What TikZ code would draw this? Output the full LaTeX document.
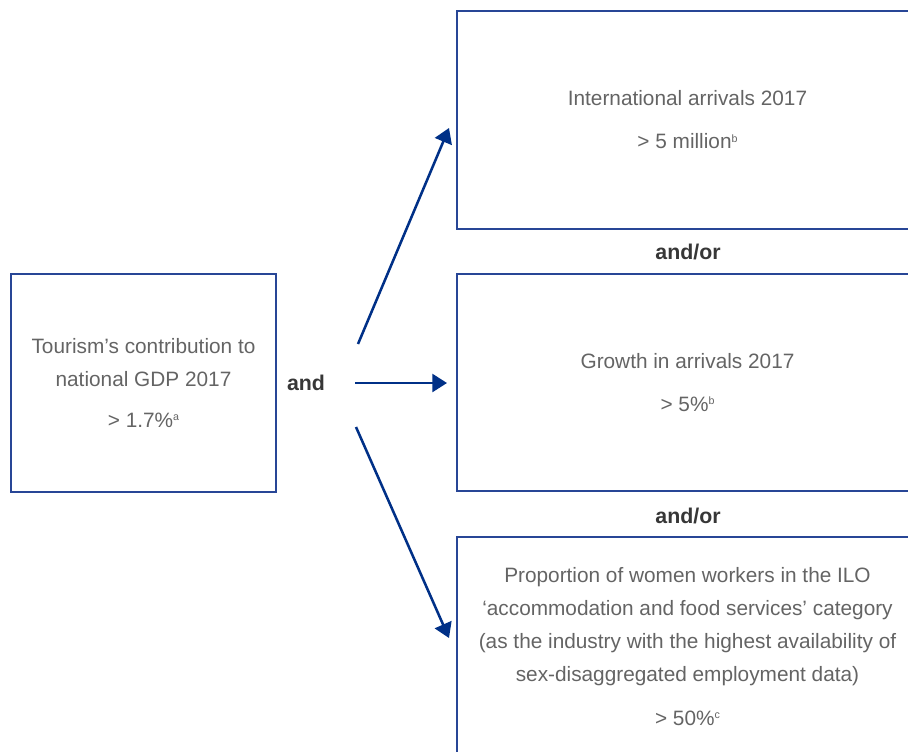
\documentclass[tikz,border=0pt]{standalone}
\usepackage{fontspec}
\setmainfont{Liberation Sans}
\usetikzlibrary{arrows.meta}
\definecolor{boxblue}{RGB}{40,70,150}
\definecolor{arrowblue}{RGB}{0,48,135}
\definecolor{txtgray}{RGB}{100,100,100}
\definecolor{boldgray}{RGB}{55,55,55}
\newcommand{\noteref}[1]{\raisebox{5.2pt}{\fontsize{8}{8}\selectfont #1}}
\tikzset{
  box/.style={draw=boxblue, line width=1pt, inner sep=0pt, outer sep=0pt, align=center,
    text=txtgray, font=\fontsize{15.6}{24.75}\selectfont},
  joiner/.style={text=boldgray, font=\fontsize{16}{18}\selectfont\bfseries, inner sep=0pt},
  flow/.style={draw=arrowblue, line width=1.9pt, -{Triangle[length=11pt,width=13.5pt]}}
}
\begin{document}
\begin{tikzpicture}[x=0.75pt,y=-0.75pt]
\useasboundingbox (0,0) rectangle (908,751);
\clip (0,0) rectangle (908,751);
\node[box, minimum width=198.75pt, minimum height=163.5pt] (src) at (143.5,383)
  {Tourism’s contribution to\\ national GDP 2017\\[6pt] > 1.7\%\noteref{a}};
\node[box, minimum width=345.75pt, minimum height=163.5pt] (b1) at (687.5,120)
  {International arrivals 2017\\[7.5pt] > 5 million\noteref{b}};
\node[box, minimum width=345.75pt, minimum height=162.75pt] (b2) at (687.5,382.5)
  {Growth in arrivals 2017\\[7.5pt] > 5\%\noteref{b}};
\node[box, minimum width=345.75pt, minimum height=164.25pt] (b3) at (687.5,646.5)
  {Proportion of women workers in the ILO\\ ‘accommodation and food services’ category\\ (as the industry with the highest availability of\\ sex-disaggregated employment data)\\[8pt] > 50\%\noteref{c}};
\node[joiner] (and) at (306,383) {and};
\node[joiner] (ao1) at (688,252) {and/or};
\node[joiner] (ao2) at (688,516) {and/or};
\coordinate (s1) at (358,344);
\coordinate (e1) at (449,128);
\coordinate (s2) at (355,383);
\coordinate (e2) at (447,383);
\coordinate (s3) at (356,427);
\coordinate (e3) at (449,638);
\draw[flow] (s1) -- (e1);
\draw[flow] (s2) -- (e2);
\draw[flow] (s3) -- (e3);
\end{tikzpicture}
\end{document}
